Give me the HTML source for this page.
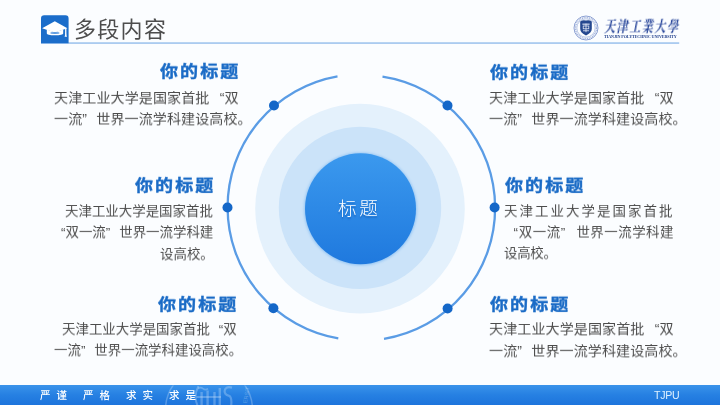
<!DOCTYPE html>
<html lang="zh-CN">
<head>
<meta charset="utf-8">
<title>多段内容</title>
<style>
html,body{margin:0;padding:0;}
body{width:720px;height:405px;overflow:hidden;position:relative;background:#fbfdff;font-family:"Liberation Sans","Noto Sans CJK SC",sans-serif;}
#bg{position:absolute;left:0;top:0;width:720px;height:405px;}
.t{position:absolute;white-space:nowrap;line-height:1;will-change:transform;}
.h{font-weight:bold;font-size:18px;color:#1a6bc6;letter-spacing:2.1px;transform:scaleY(0.905);transform-origin:0 100%;-webkit-text-stroke:0.45px #1a6bc6;}
.b{font-size:14px;color:#4c4c4c;transform:scaleY(0.95);transform-origin:0 8%;}
.r{text-align:right;}
.ql,.qr{display:inline-block;width:1em;letter-spacing:0;}
.ql{text-align:right;}
.qr{text-align:left;}
.title{font-size:22px;color:#4d4d4d;left:74.3px;top:18.8px;letter-spacing:1.3px;}
.foot{color:#fff;font-weight:500;font-size:10.5px;top:389.5px;letter-spacing:6px;}
</style>
</head>
<body>
<svg id="bg" width="720" height="405" viewBox="0 0 720 405">
  <defs>
    <linearGradient id="fg" x1="0" y1="0" x2="0" y2="1">
      <stop offset="0" stop-color="#3a93ea"/>
      <stop offset="0.5" stop-color="#2680e2"/>
      <stop offset="1" stop-color="#1d74dc"/>
    </linearGradient>
    <filter id="bl" x="-20%" y="-20%" width="140%" height="140%"><feGaussianBlur stdDeviation="1.6"/></filter>
    <linearGradient id="cg" x1="0" y1="0" x2="0" y2="1">
      <stop offset="0" stop-color="#3b99ee"/>
      <stop offset="1" stop-color="#1f79de"/>
    </linearGradient>
  </defs>
  <!-- header line -->
  <rect x="41" y="42.5" width="638.2" height="1.1" fill="#76abe6"/>
  <!-- header icon -->
  <path d="M41 43.2 V18.4 a3.2 3.2 0 0 1 3.2 -3.2 H65.4 a3.2 3.2 0 0 1 3.2 3.2 V43.2 Z" fill="#1b6dca"/>
  <g fill="#fff">
    <path d="M54.8 21.2 L67.4 28.2 L54.8 32.4 L42.1 28.2 Z"/>
    <path d="M46.8 29.6 L54.8 32.2 L63.2 29.6 V33.4 Q63.2 35.2 54.8 35.2 Q46.8 35.2 46.8 33.4 Z"/>
    <rect x="65.1" y="28.2" width="1.3" height="6.5"/>
    <path d="M65.7 32.6 L67 36.8 H64.6 Z"/>
  </g>
  <ellipse cx="54.9" cy="33" rx="4.6" ry="0.9" fill="#5d9be0"/>
  <!-- circles -->
  <circle cx="360" cy="208.6" r="104.8" fill="#e4f1fc"/>
  <circle cx="360" cy="207.9" r="81.2" fill="#cbe3f9"/>
  <circle cx="360.5" cy="209" r="56" fill="#4c9dec" opacity="0.55" filter="url(#bl)"/>
  <circle cx="360.5" cy="208.7" r="55.5" fill="url(#cg)"/>
  <!-- arcs -->
  <g fill="none" stroke="#5a9ce5" stroke-width="2.3">
    <path d="M337.5 76.3 A133 133 0 0 0 338.3 338.4"/>
    <path d="M382.5 76.7 A132.7 132.7 0 0 1 384 338.8"/>
  </g>
  <g fill="#1467c8">
    <circle cx="274" cy="105.5" r="5"/>
    <circle cx="227.5" cy="207.5" r="5"/>
    <circle cx="273.4" cy="308.3" r="5"/>
    <circle cx="447.5" cy="105.5" r="5"/>
    <circle cx="494.6" cy="207.5" r="5"/>
    <circle cx="447.6" cy="308.5" r="5"/>
  </g>
  <!-- footer -->
  <rect x="0" y="385" width="720" height="20" fill="url(#fg)"/>
  <clipPath id="fc"><rect x="0" y="385.5" width="720" height="19.5"/></clipPath>
  <g clip-path="url(#fc)" fill="none" stroke="#d4e9fc" stroke-opacity="0.3">
    <circle cx="209" cy="410" r="43.5" stroke-width="1.5"/>
    <path d="M198.5 386 Q193.2 396 197.5 405.5" stroke-width="2"/>
    <path d="M198 388.6 q2.5 -2 5 0 t5 0" stroke-width="1.6"/>
    <path d="M201.6 392 V405 M207.6 390.5 V405 M214.5 392 V405 M219.8 388 V405" stroke-width="2.4"/>
    <path d="M196.5 397 H221" stroke-width="2.2"/>
    <path d="M232 387.6 q-7 -1.6 -7.4 3.4 q0 3.8 4 4.6 q3.6 1 2.6 10" stroke-width="2.2"/>
    <text transform="translate(246.8,403.5) rotate(-80)" font-family="Liberation Sans, sans-serif" font-size="5.6" fill="#d4e9fc" fill-opacity="0.34" stroke="none">ERSIT</text>
  </g>
  <!-- logo emblem -->
  <g transform="translate(586,28)">
    <circle r="12" fill="#fdfeff" stroke="#6f88c6" stroke-width="0.8"/>
    <circle r="10.5" fill="none" stroke="#9fb1dc" stroke-width="1.4" stroke-dasharray="1 0.8"/>
    <circle r="9.2" fill="#fdfeff" stroke="#8fa4d4" stroke-width="0.6"/>
    <path d="M-5.8 -6.6 Q-3 -8.6 0 -7.4 Q3 -8.6 5.8 -6.6 V0.8 Q5.8 5 0 7.4 Q-5.8 5 -5.8 0.8 Z" fill="#25488f"/>
    <rect x="-3.6" y="-4.4" width="7.2" height="1.1" fill="#e6ecf8"/>
    <rect x="-2.8" y="-2" width="5.6" height="2.8" fill="none" stroke="#e6ecf8" stroke-width="0.8"/>
    <rect x="-0.4" y="-4.4" width="0.8" height="8.6" fill="#e6ecf8"/>
    <rect x="-3" y="2.4" width="6" height="0.8" fill="#e6ecf8"/>
  </g>
</svg>

<div class="t title">多段内容</div>

<div class="t h" style="left:160px;top:62.2px;">你的标题</div>
<div class="t b" style="left:54.1px;top:91px;font-size:14.05px;letter-spacing:0.08px;">天津工业大学是国家首批<span class="ql" style="width:15px;">“</span>双</div>
<div class="t b" style="left:54.1px;top:112px;font-size:14.05px;letter-spacing:0.08px;">一流<span class="qr">”</span>世界一流学科建设高校。</div>
<div class="t h" style="left:134.7px;top:176px;">你的标题</div>
<div class="t b" style="left:65.3px;top:205.4px;font-size:13.45px;">天津工业大学是国家首批</div>
<div class="t b" style="left:52px;top:225.7px;font-size:13.45px;"><span class="ql">“</span>双一流<span class="qr">”</span>世界一流学科建</div>
<div class="t b" style="left:159.5px;top:247.6px;font-size:13.45px;">设高校。</div>
<div class="t h" style="left:158.2px;top:295.4px;">你的标题</div>
<div class="t b" style="left:61.5px;top:323.1px;font-size:13.45px;">天津工业大学是国家首批<span class="ql">“</span>双</div>
<div class="t b" style="left:53.5px;top:344.2px;font-size:13.45px;">一流<span class="qr">”</span>世界一流学科建设高校。</div>
<div class="t h" style="left:489.6px;top:62.5px;">你的标题</div>
<div class="t b" style="left:489.1px;top:91px;font-size:14.05px;letter-spacing:0.08px;">天津工业大学是国家首批<span class="ql" style="width:15px;">“</span>双</div>
<div class="t b" style="left:489.1px;top:112px;font-size:14.05px;letter-spacing:0.08px;">一流<span class="qr">”</span>世界一流学科建设高校。</div>
<div class="t h" style="left:504.6px;top:176px;">你的标题</div>
<div class="t b" style="left:503.9px;top:205.3px;font-size:13.45px;letter-spacing:2.05px;">天津工业大学是国家首批</div>
<div class="t b" style="left:511.6px;top:225.6px;font-size:13.45px;letter-spacing:0.5px;"><span class="ql" style="width:6px;margin-right:0.8px;">“</span>双一流<span class="qr" style="width:15.75px;">”</span>世界一流学科建</div>
<div class="t b" style="left:504.2px;top:246.5px;font-size:13.45px;letter-spacing:-0.3px;">设高校。</div>
<div class="t h" style="left:489.6px;top:295.4px;">你的标题</div>
<div class="t b" style="left:489.1px;top:322px;font-size:14.05px;letter-spacing:0.08px;">天津工业大学是国家首批<span class="ql" style="width:15px;">“</span>双</div>
<div class="t b" style="left:489.1px;top:343.9px;font-size:14.05px;letter-spacing:0.08px;">一流<span class="qr">”</span>世界一流学科建设高校。</div>

<div class="t" style="left:338px;top:200.2px;font-size:18.6px;color:#fff;letter-spacing:2.6px;font-weight:300;text-shadow:0 1.5px 1.5px rgba(10,60,140,0.4);">标题</div>

<div class="t foot" style="left:40.3px;">严谨</div>
<div class="t foot" style="left:83.3px;">严格</div>
<div class="t foot" style="left:126.2px;">求实</div>
<div class="t foot" style="left:168.6px;">求是</div>
<div class="t" style="left:654px;top:389.7px;font-size:10.6px;color:#dff1ff;letter-spacing:-0.3px;">TJPU</div>

<div class="t" style="left:604.6px;top:20.6px;font-size:11.2px;color:#27459a;font-family:'Liberation Serif','Noto Serif CJK SC',serif;font-weight:700;letter-spacing:1.4px;transform:scaleY(1.3) skewX(-14deg);transform-origin:0 50%;">天津工業大學</div>
<div class="t" style="left:603.8px;top:35.2px;font-size:4.1px;color:#22408c;font-family:'Liberation Serif',serif;font-weight:bold;letter-spacing:-0.07px;">TIANJIN POLYTECHNIC UNIVERSITY</div>

</body>
</html>
